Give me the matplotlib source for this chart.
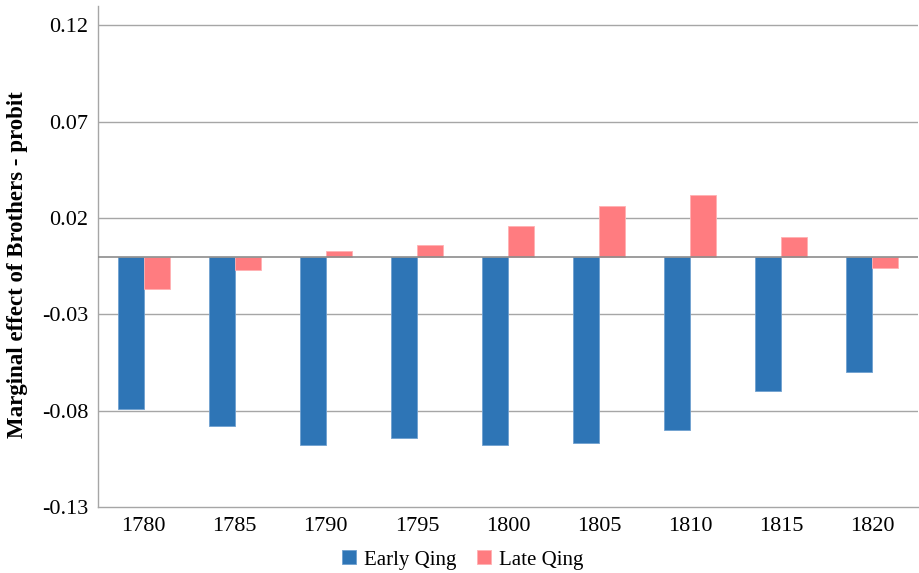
import matplotlib
matplotlib.use("Agg")
import matplotlib.pyplot as plt
import numpy as np

years = ["1780", "1785", "1790", "1795", "1800", "1805", "1810", "1815", "1820"]
early_qing = [-0.079, -0.088, -0.098, -0.094, -0.098, -0.097, -0.090, -0.070, -0.060]
late_qing = [-0.017, -0.007, 0.003, 0.006, 0.016, 0.026, 0.032, 0.010, -0.006]
y_ticks = [-0.13, -0.08, -0.03, 0.02, 0.07, 0.12]

blue = "#2E75B6"
pink = "#FF7C80"
grid_col = "#A6A6A6"

plt.rcParams["font.family"] = ["Liberation Serif", "DejaVu Serif"]

fig = plt.figure(figsize=(9.2, 5.73), dpi=100)
ax = fig.add_axes([98 / 920, 1 - 507 / 573, (918 - 98) / 920, (507 - 6) / 573])

x = np.arange(len(years))
w = 0.285
ax.bar(x - w / 2, early_qing, width=w, color=blue, edgecolor="#6FA0D0", linewidth=0.6,
       label="Early Qing", zorder=3)
ax.bar(x + w / 2, late_qing, width=w, color=pink, edgecolor="#FFB0B2", linewidth=0.6,
       label="Late Qing", zorder=3)

ax.set_xlim(-0.5, len(years) - 0.5)
ax.set_ylim(-0.13, 0.13)
ax.set_yticks(y_ticks)
ax.set_yticklabels([f"{t:.2f}" for t in y_ticks])
ax.set_xticks(x)
ax.set_xticklabels(years)
ax.tick_params(axis="both", length=0, labelsize=16, colors="black")
ax.tick_params(axis="y", pad=7)
ax.tick_params(axis="x", pad=7)

for t in y_ticks[1:]:
    ax.axhline(t, color=grid_col, linewidth=1.0, zorder=1)
ax.axhline(0, color="#8C8C8C", linewidth=1.2, zorder=4)

for side in ["top", "right"]:
    ax.spines[side].set_visible(False)
for side in ["left", "bottom"]:
    ax.spines[side].set_color(grid_col)
    ax.spines[side].set_linewidth(1.0)

ax.set_ylabel("Marginal effect of Brothers - probit", fontsize=16.5, fontweight="bold")
ax.yaxis.set_label_coords(-70 / 820, 0.483)

ax.legend(loc="center", bbox_to_anchor=(463 / 920, 1 - 560 / 573), bbox_transform=fig.transFigure,
          ncol=2, frameon=False, fontsize=15, handlelength=0.65, handleheight=0.65,
          handletextpad=0.4, columnspacing=1.0)

fig.savefig("out.png", dpi=100)
